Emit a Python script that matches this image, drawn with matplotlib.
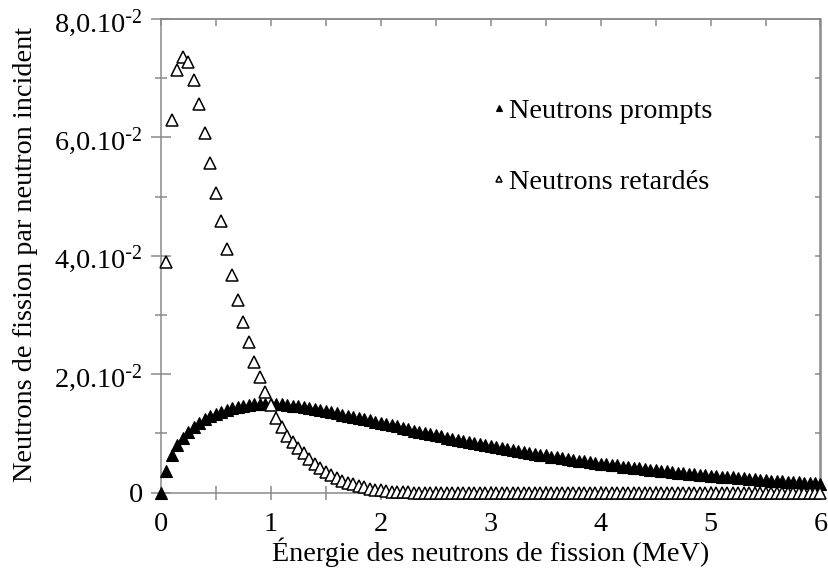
import numpy as np
import matplotlib
matplotlib.use("Agg")
import matplotlib.pyplot as plt
from matplotlib.ticker import MultipleLocator, FixedLocator, NullFormatter

plt.rcParams['font.family'] = ['Liberation Serif', 'DejaVu Serif']
plt.rcParams['mathtext.default'] = 'regular'

# ---- data (values in units of 1e-2 neutrons per incident neutron) ----
energy_step = 0.05  # MeV
# prompt neutrons, from 0.00 MeV to 6.00 MeV
prompt_vals = [
    0.00, 0.36, 0.64, 0.80, 0.93, 1.03, 1.11, 1.18, 1.24, 1.29,   # 0.00-0.45
    1.33, 1.37, 1.40, 1.43, 1.45, 1.47, 1.48, 1.49, 1.50, 1.50,   # 0.50-0.95
    1.50, 1.50, 1.49, 1.48, 1.47, 1.46, 1.45, 1.43, 1.42, 1.40,   # 1.00-1.45
    1.38, 1.36, 1.34, 1.32, 1.30, 1.28, 1.26, 1.24, 1.22, 1.20,   # 1.50-1.95
    1.18, 1.16, 1.14, 1.12, 1.09, 1.07, 1.05, 1.03, 1.01, 0.99,   # 2.00-2.45
    0.97, 0.95, 0.93, 0.91, 0.89, 0.87, 0.85, 0.84, 0.82, 0.80,   # 2.50-2.95
    0.79, 0.77, 0.75, 0.74, 0.72, 0.70, 0.69, 0.67, 0.66, 0.64,   # 3.00-3.45
    0.63, 0.61, 0.60, 0.58, 0.57, 0.56, 0.54, 0.53, 0.52, 0.50,   # 3.50-3.95
    0.49, 0.48, 0.47, 0.46, 0.44, 0.43, 0.42, 0.41, 0.40, 0.39,   # 4.00-4.45
    0.38, 0.37, 0.36, 0.35, 0.34, 0.33, 0.32, 0.31, 0.305, 0.30,  # 4.50-4.95
    0.29, 0.28, 0.27, 0.265, 0.26, 0.25, 0.24, 0.235, 0.23, 0.22, # 5.00-5.45
    0.21, 0.205, 0.20, 0.19, 0.185, 0.18, 0.175, 0.17, 0.165, 0.16,  # 5.50-5.95
    0.155,                                                        # 6.00
]
# delayed neutrons, from 0.05 MeV to 6.00 MeV
delayed_vals = [
          3.90, 6.29, 7.14, 7.35, 7.27, 6.97, 6.57, 6.08, 5.57,   # 0.05-0.45
    5.06, 4.59, 4.12, 3.68, 3.25, 2.88, 2.54, 2.20, 1.95, 1.70,   # 0.50-0.95
    1.48, 1.26, 1.11, 0.96, 0.86, 0.76, 0.67, 0.57, 0.49, 0.42,   # 1.00-1.45
    0.35, 0.30, 0.25, 0.20, 0.17, 0.14, 0.11, 0.09, 0.07, 0.05,   # 1.50-1.95
    0.04, 0.03, 0.02, 0.015, 0.01, 0.005, 0.0, 0.0, 0.0, 0.0,     # 2.00-2.45
    0.0, 0.0, 0.0, 0.0, 0.0, 0.0, 0.0, 0.0, 0.0, 0.0,             # 2.50-2.95
    0.0, 0.0, 0.0, 0.0, 0.0, 0.0, 0.0, 0.0, 0.0, 0.0,             # 3.00-3.45
    0.0, 0.0, 0.0, 0.0, 0.0, 0.0, 0.0, 0.0, 0.0, 0.0,             # 3.50-3.95
    0.0, 0.0, 0.0, 0.0, 0.0, 0.0, 0.0, 0.0, 0.0, 0.0,             # 4.00-4.45
    0.0, 0.0, 0.0, 0.0, 0.0, 0.0, 0.0, 0.0, 0.0, 0.0,             # 4.50-4.95
    0.0, 0.0, 0.0, 0.0, 0.0, 0.0, 0.0, 0.0, 0.0, 0.0,             # 5.00-5.45
    0.0, 0.0, 0.0, 0.0, 0.0, 0.0, 0.0, 0.0, 0.0, 0.0,             # 5.50-5.95
    0.0,                                                          # 6.00
]
series_labels = ["Neutrons prompts", "Neutrons retardés"]
x_ticks = [0, 1, 2, 3, 4, 5, 6]
x_ticklabels = ["0", "1", "2", "3", "4", "5", "6"]
y_ticks = [0.0, 0.02, 0.04, 0.06, 0.08]
y_ticklabels = ["0", r"2,0.10$^{\text{-}2}$", r"4,0.10$^{\text{-}2}$",
                r"6,0.10$^{\text{-}2}$", r"8,0.10$^{\text{-}2}$"]
x_label = "Énergie des neutrons de fission (MeV)"
y_label = "Neutrons de fission par neutron incident"

energy_prompt = np.round(np.arange(len(prompt_vals)) * energy_step, 2)
energy_delayed = np.round((np.arange(len(delayed_vals)) + 1) * energy_step, 2)
prompt = np.array(prompt_vals) * 1e-2
delayed = np.array(delayed_vals) * 1e-2

# ---- figure ----
W, H = 829, 576
fig = plt.figure(figsize=(W / 100, H / 100), dpi=100)
ax = fig.add_axes([160.7 / W, 1 - 492.7 / H, 659.8 / W, 473.7 / H])

spine_col = "#8a8a8a"
fs = 20.3

l1, = ax.plot(energy_prompt, prompt, linestyle="none", marker="^", ms=8.3,
              mfc="black", mec="black", mew=0.8, clip_on=False, zorder=3,
              label=series_labels[0])
l2, = ax.plot(energy_delayed, delayed, linestyle="none", marker="^", ms=8.3,
              mfc="white", mec="black", mew=1.1, clip_on=False, zorder=4,
              label=series_labels[1])

ax.set_xlim(0, 6)
ax.set_ylim(0, 0.08)

for s in ax.spines.values():
    s.set_color(spine_col)
    s.set_linewidth(1.1)

ax.xaxis.set_major_locator(FixedLocator(x_ticks))
ax.set_xticklabels(x_ticklabels)
ax.xaxis.set_minor_locator(MultipleLocator(0.5))
ax.yaxis.set_major_locator(FixedLocator(y_ticks))
ax.set_yticklabels(y_ticklabels)
ax.yaxis.set_minor_locator(MultipleLocator(0.01))

ax.tick_params(axis="x", which="both", direction="inout", length=9.4, width=1.1,
               color=spine_col, labelsize=fs, pad=9.5, top=False)
ax.tick_params(axis="y", which="major", direction="inout", length=13.7, width=1.1,
               color=spine_col, labelsize=fs, pad=6.0, right=False)
ax.tick_params(axis="y", which="minor", direction="inout", length=8.8, width=1.1,
               color=spine_col, right=False)

# inward ticks on top and right frame
top = ax.secondary_xaxis("top")
top.xaxis.set_major_locator(MultipleLocator(0.5))
top.xaxis.set_major_formatter(NullFormatter())
top.tick_params(direction="in", length=5, width=1.1, color=spine_col)
top.spines["top"].set_color(spine_col)
top.spines["top"].set_linewidth(1.1)
right = ax.secondary_yaxis("right")
right.yaxis.set_major_locator(MultipleLocator(0.01))
right.yaxis.set_major_formatter(NullFormatter())
right.tick_params(direction="in", length=4.3, width=1.1, color=spine_col)
right.spines["right"].set_color(spine_col)
right.spines["right"].set_linewidth(1.1)

ax.set_xlabel(x_label, fontsize=fs)
ax.xaxis.set_label_coords(0.5, -0.094)
ax.set_ylabel(y_label, fontsize=fs)
ax.yaxis.set_label_coords(-0.1855, 0.503)

leg = ax.legend(handles=[l1, l2], loc="upper left", bbox_to_anchor=(0.5, 0.833),
                frameon=False, fontsize=fs, markerscale=0.55, handlelength=0.6,
                handletextpad=0.05, labelspacing=1.6, borderpad=0, borderaxespad=0)

fig.savefig("out.png", dpi=100)
